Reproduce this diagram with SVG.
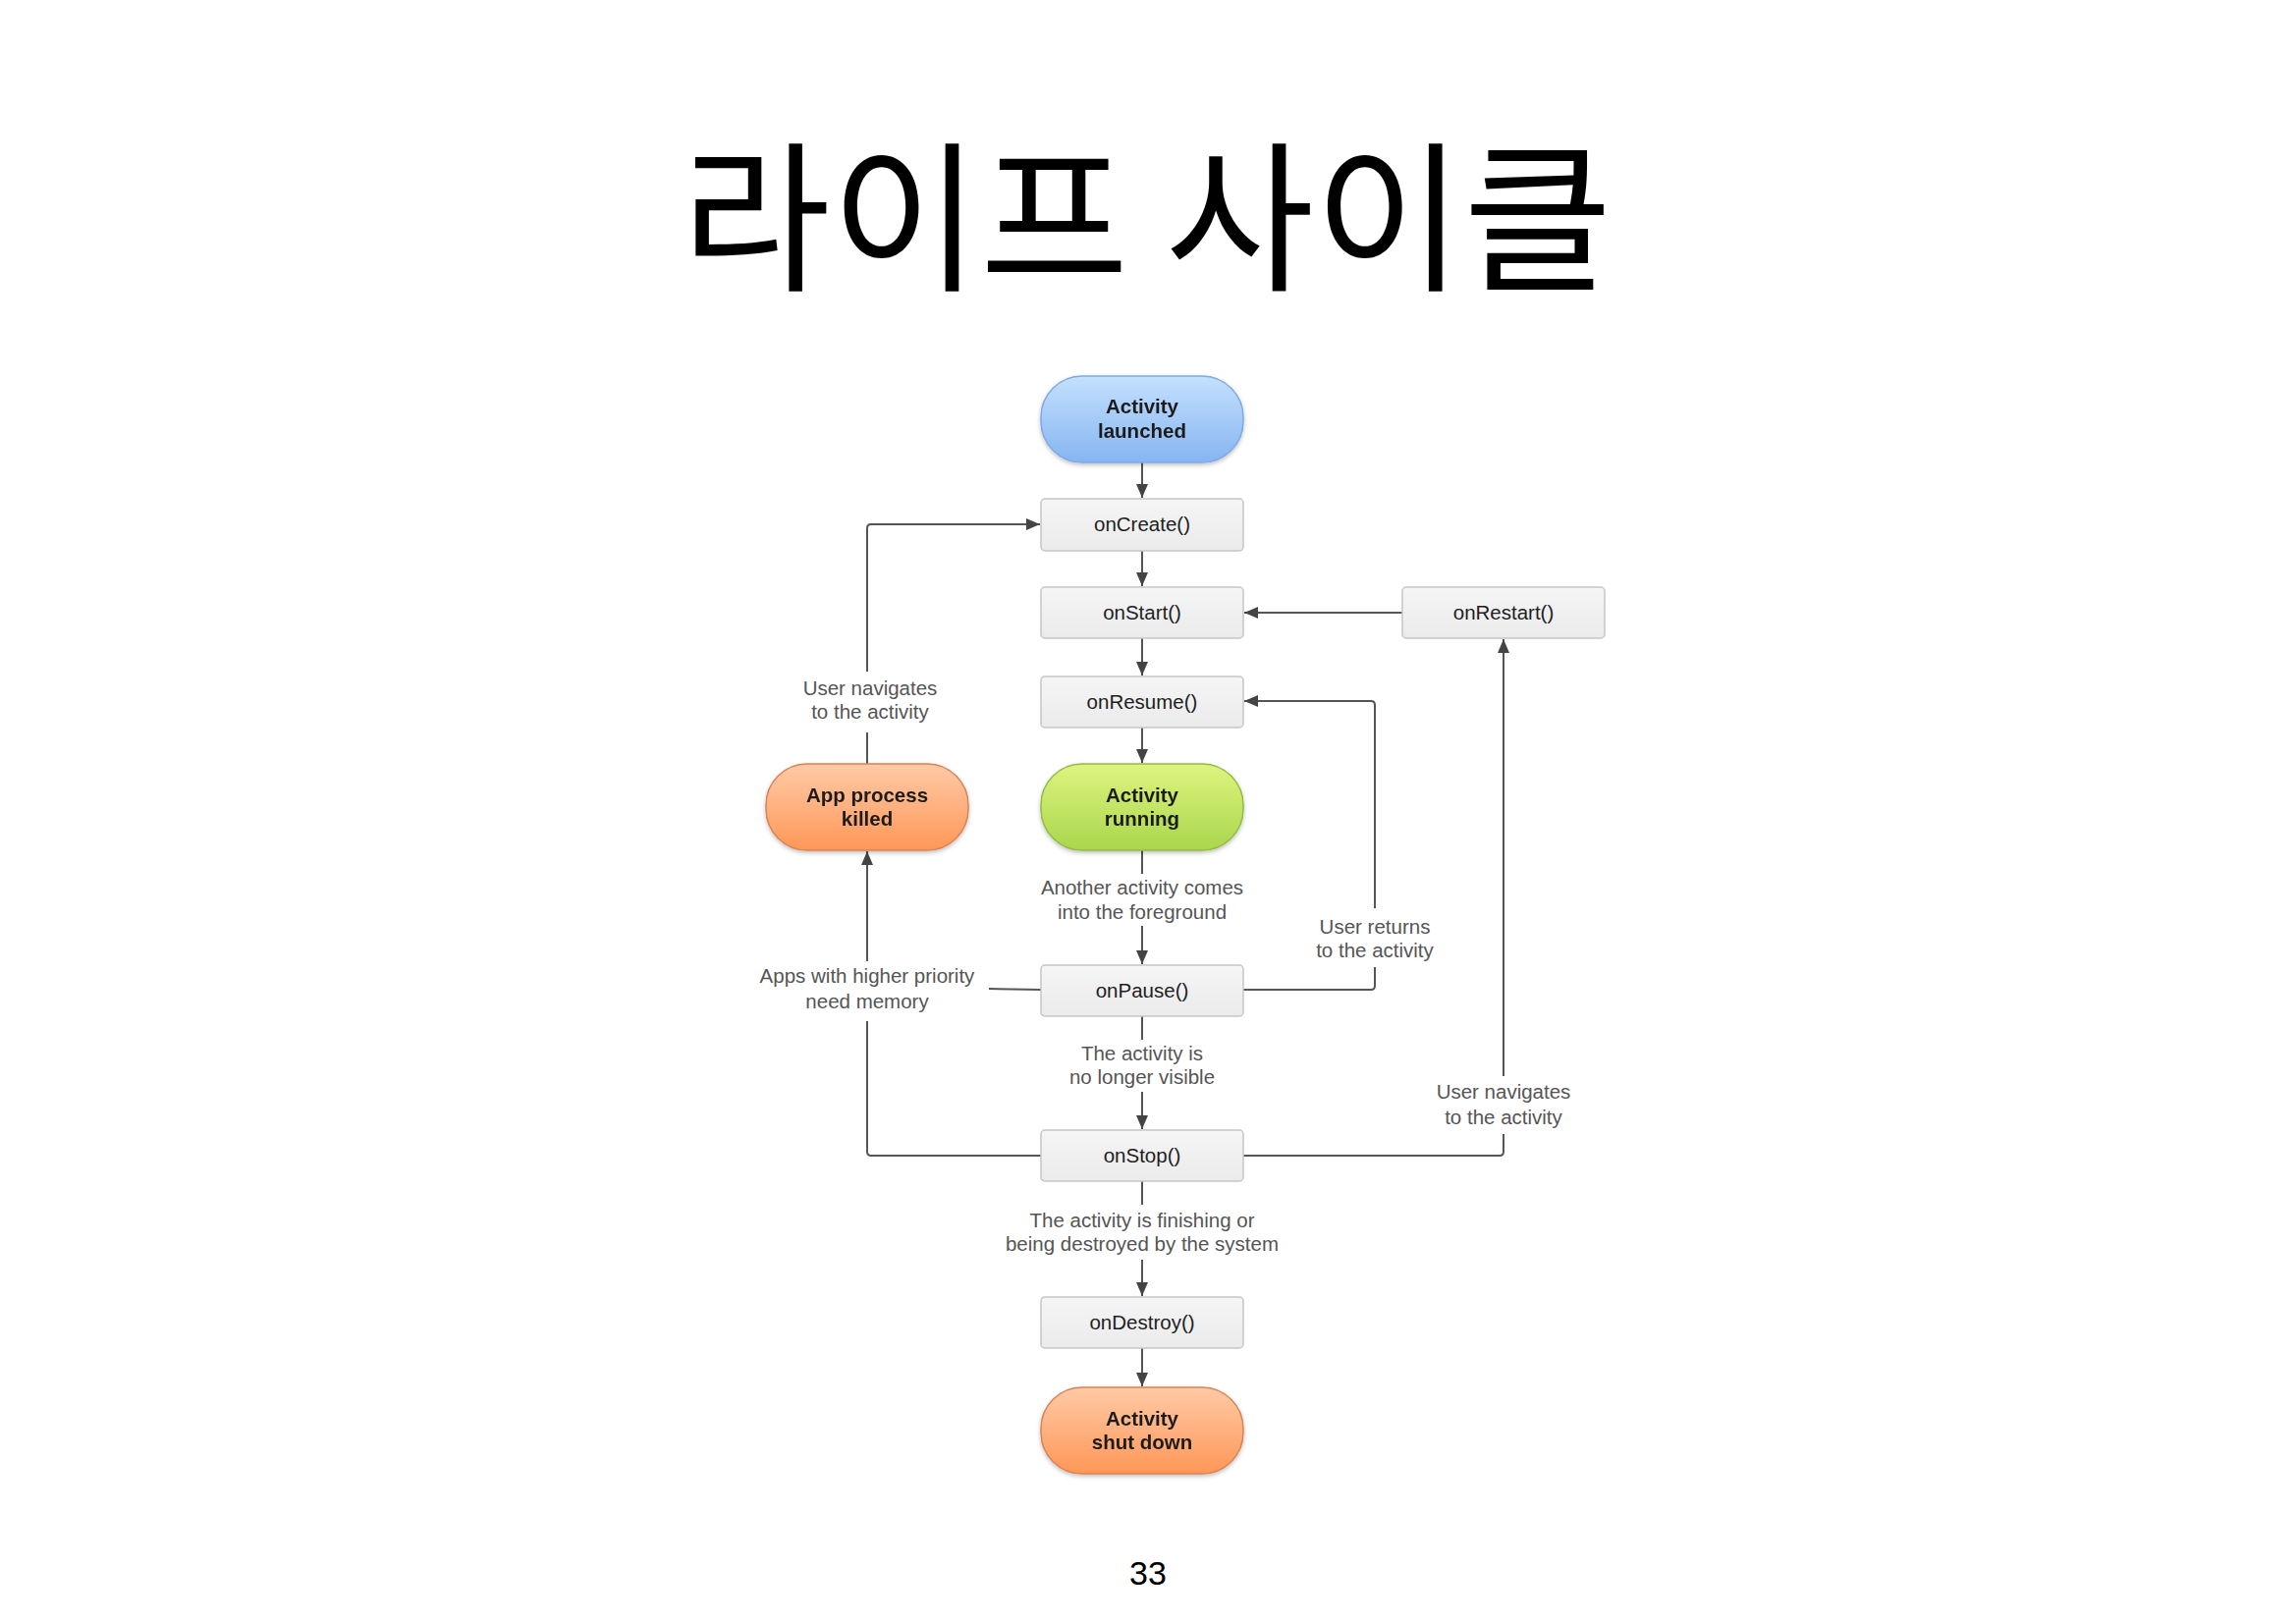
<svg xmlns="http://www.w3.org/2000/svg" width="2338" height="1652" viewBox="0 0 2338 1652">
<defs>
<style>
.title{font-family:"Noto Sans CJK KR","Noto Sans CJK SC",sans-serif;font-size:165px;font-weight:400;fill:#000;text-anchor:middle;letter-spacing:0px}
.nt{font-family:"Liberation Sans",Arial,sans-serif;font-size:20.5px;font-weight:bold;fill:#1e1e1e;text-anchor:middle}
.mt{font-family:"Liberation Sans",Arial,sans-serif;font-size:20.5px;fill:#1e1e1e;text-anchor:middle}
.lb{font-family:"Liberation Sans",Arial,sans-serif;font-size:20.5px;fill:#555;text-anchor:middle}
.pg{font-family:"Liberation Sans",Arial,sans-serif;font-size:34px;fill:#000;text-anchor:middle}
.box{fill:url(#gGray);stroke:#c6c6c6;stroke-width:1.5}
.blue{fill:url(#gBlue);stroke:#7fa9e3;stroke-width:1.5}
.green{fill:url(#gGreen);stroke:#93bb45;stroke-width:1.5}
.orange{fill:url(#gOrange);stroke:#d88355;stroke-width:1.5}
.ln{fill:none;stroke:#555;stroke-width:2}
</style>
<linearGradient id="gGray" x1="0" y1="0" x2="0" y2="1"><stop offset="0" stop-color="#f5f5f5"/><stop offset="1" stop-color="#ebebeb"/></linearGradient>
<linearGradient id="gBlue" x1="0" y1="0" x2="0" y2="1"><stop offset="0" stop-color="#c4e1fd"/><stop offset="1" stop-color="#86b5f1"/></linearGradient>
<linearGradient id="gGreen" x1="0" y1="0" x2="0" y2="1"><stop offset="0" stop-color="#def47f"/><stop offset="1" stop-color="#a9d64c"/></linearGradient>
<linearGradient id="gOrange" x1="0" y1="0" x2="0" y2="1"><stop offset="0" stop-color="#ffcaa6"/><stop offset="1" stop-color="#ff9758"/></linearGradient>
<filter id="sh" x="-10%" y="-10%" width="120%" height="130%"><feDropShadow dx="0" dy="2" stdDeviation="2" flood-color="#000" flood-opacity="0.25"/></filter>
<marker id="ah" viewBox="0 0 14 12" refX="14" refY="6" markerWidth="14" markerHeight="12" orient="auto" markerUnits="userSpaceOnUse"><path d="M0,0 L14,6 L0,12 z" fill="#444"/></marker>
</defs>
<rect width="2338" height="1652" fill="#fff"/>
<text class="title" x="1168" y="283">라이프 사이클</text>

<g id="connectors">
<line class="ln" x1="1163" y1="471" x2="1163" y2="507" marker-end="url(#ah)"/>
<line class="ln" x1="1163" y1="561" x2="1163" y2="597" marker-end="url(#ah)"/>
<line class="ln" x1="1163" y1="650" x2="1163" y2="688" marker-end="url(#ah)"/>
<line class="ln" x1="1163" y1="741" x2="1163" y2="777" marker-end="url(#ah)"/>
<line class="ln" x1="1163" y1="866" x2="1163" y2="890"/>
<line class="ln" x1="1163" y1="943" x2="1163" y2="982" marker-end="url(#ah)"/>
<line class="ln" x1="1163" y1="1035" x2="1163" y2="1059"/>
<line class="ln" x1="1163" y1="1112" x2="1163" y2="1150" marker-end="url(#ah)"/>
<line class="ln" x1="1163" y1="1203" x2="1163" y2="1227"/>
<line class="ln" x1="1163" y1="1283" x2="1163" y2="1320" marker-end="url(#ah)"/>
<line class="ln" x1="1163" y1="1373" x2="1163" y2="1412" marker-end="url(#ah)"/>
<line class="ln" x1="1428" y1="624" x2="1267" y2="624" marker-end="url(#ah)"/>
<path class="ln" d="M1266,1008 H1396 Q1400,1008 1400,1004 V985"/>
<path class="ln" d="M1400,925 V718 Q1400,714 1396,714 H1267" marker-end="url(#ah)"/>
<path class="ln" d="M1266,1177 H1527 Q1531,1177 1531,1173 V1155"/>
<line class="ln" x1="1531" y1="1096" x2="1531" y2="651" marker-end="url(#ah)"/>
<path class="ln" d="M1060,1177 H887 Q883,1177 883,1173 V1040"/>
<line class="ln" x1="883" y1="979" x2="883" y2="867" marker-end="url(#ah)"/>
<line class="ln" x1="1007" y1="1007" x2="1060" y2="1008"/>
<line class="ln" x1="883" y1="778" x2="883" y2="746"/>
<path class="ln" d="M883,684 V538 Q883,534 887,534 H1059" marker-end="url(#ah)"/>
</g>

<g id="activity-launched" filter="url(#sh)">
<rect class="blue" x="1060" y="383" width="206" height="88" rx="42" ry="42"/>
<text class="nt" x="1163" y="421">Activity</text>
<text class="nt" x="1163" y="446">launched</text>
</g>
<g id="onCreate">
<rect class="box" x="1060" y="508" width="206" height="53" rx="4"/>
<text class="mt" x="1163" y="541">onCreate()</text>
</g>
<g id="onStart">
<rect class="box" x="1060" y="598" width="206" height="52" rx="4"/>
<text class="mt" x="1163" y="631">onStart()</text>
</g>
<g id="onRestart">
<rect class="box" x="1428" y="598" width="206" height="52" rx="4"/>
<text class="mt" x="1531" y="631">onRestart()</text>
</g>
<g id="onResume">
<rect class="box" x="1060" y="689" width="206" height="52" rx="4"/>
<text class="mt" x="1163" y="722">onResume()</text>
</g>
<g id="activity-running" filter="url(#sh)">
<rect class="green" x="1060" y="778" width="206" height="88" rx="42" ry="42"/>
<text class="nt" x="1163" y="817">Activity</text>
<text class="nt" x="1163" y="841">running</text>
</g>
<g id="app-process-killed" filter="url(#sh)">
<rect class="orange" x="780" y="778" width="206" height="88" rx="42" ry="42"/>
<text class="nt" x="883" y="817">App process</text>
<text class="nt" x="883" y="841">killed</text>
</g>
<g id="onPause">
<rect class="box" x="1060" y="983" width="206" height="52" rx="4"/>
<text class="mt" x="1163" y="1016">onPause()</text>
</g>
<g id="onStop">
<rect class="box" x="1060" y="1151" width="206" height="52" rx="4"/>
<text class="mt" x="1163" y="1184">onStop()</text>
</g>
<g id="onDestroy">
<rect class="box" x="1060" y="1321" width="206" height="52" rx="4"/>
<text class="mt" x="1163" y="1354">onDestroy()</text>
</g>
<g id="activity-shut-down" filter="url(#sh)">
<rect class="orange" x="1060" y="1413" width="206" height="88" rx="42" ry="42"/>
<text class="nt" x="1163" y="1452">Activity</text>
<text class="nt" x="1163" y="1476">shut down</text>
</g>

<g id="labels">
<text class="lb" x="886" y="708">User navigates</text>
<text class="lb" x="886" y="732">to the activity</text>
<text class="lb" x="1163" y="911">Another activity comes</text>
<text class="lb" x="1163" y="936">into the foreground</text>
<text class="lb" x="1400" y="951">User returns</text>
<text class="lb" x="1400" y="975">to the activity</text>
<text class="lb" x="883" y="1001">Apps with higher priority</text>
<text class="lb" x="883" y="1027">need memory</text>
<text class="lb" x="1163" y="1080">The activity is</text>
<text class="lb" x="1163" y="1104">no longer visible</text>
<text class="lb" x="1531" y="1119">User navigates</text>
<text class="lb" x="1531" y="1145">to the activity</text>
<text class="lb" x="1163" y="1250">The activity is finishing or</text>
<text class="lb" x="1163" y="1274">being destroyed by the system</text>
</g>
<text class="pg" x="1169" y="1614">33</text>
</svg>
